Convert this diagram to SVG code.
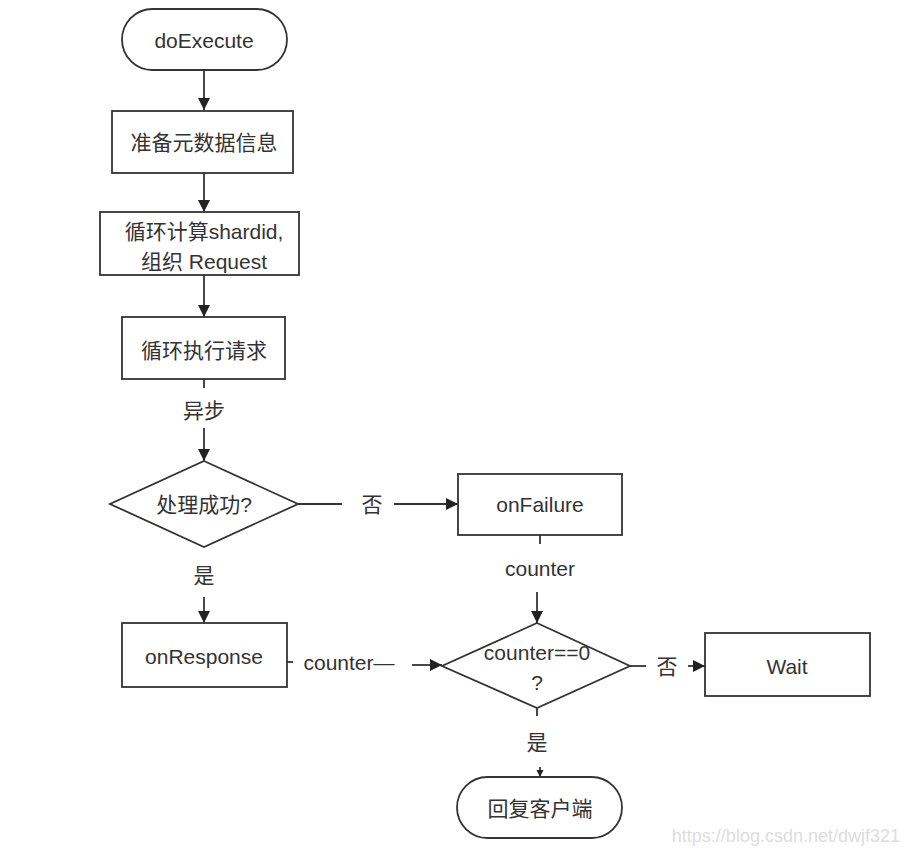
<svg xmlns="http://www.w3.org/2000/svg" width="908" height="855" viewBox="0 0 908 855">
<style>
.s{fill:#fff;stroke:#333;stroke-width:1.8}
.t{font-family:"Liberation Sans","Noto Sans CJK SC",sans-serif;font-size:21px;fill:#333;text-anchor:middle;dominant-baseline:central}
.l{fill:none;stroke:#333;stroke-width:1.8}
.wm{font-family:"Liberation Sans",sans-serif;font-size:18px;fill:#ddd;text-anchor:end}
</style>
<defs>
<marker id="a" viewBox="0 0 10 10" refX="10" refY="5" markerWidth="7" markerHeight="8" markerUnits="userSpaceOnUse" orient="auto">
<path d="M0,0 L10,5 L0,10 Z" fill="#222"/>
</marker>
<marker id="b" viewBox="0 0 10 10" refX="10" refY="5" markerWidth="16" markerHeight="12" markerUnits="userSpaceOnUse" orient="auto">
<path d="M0,0 L10,5 L0,10 Z" fill="#222"/>
</marker>
</defs>
<rect width="908" height="855" fill="#fff"/>
<g id="connectors">
<line class="l" x1="204" y1="70" x2="204" y2="110" marker-end="url(#b)"/>
<line class="l" x1="204" y1="173" x2="204" y2="212" marker-end="url(#b)"/>
<line class="l" x1="204" y1="275" x2="204" y2="317" marker-end="url(#b)"/>
<line class="l" x1="204" y1="379" x2="204" y2="388"/>
<text class="t" x="204" y="410">异步</text>
<line class="l" x1="204" y1="428" x2="204" y2="461" marker-end="url(#b)"/>
<line class="l" x1="298" y1="504" x2="342" y2="504"/>
<text class="t" x="372" y="504">否</text>
<line class="l" x1="394" y1="504" x2="458" y2="504" marker-end="url(#b)"/>
<text class="t" x="204" y="575">是</text>
<line class="l" x1="204" y1="597" x2="204" y2="623" marker-end="url(#b)"/>
<line class="l" x1="540" y1="535" x2="540" y2="544"/>
<text class="t" x="540" y="568">counter</text>
<line class="l" x1="537" y1="592" x2="537" y2="623" marker-end="url(#b)"/>
<line class="l" x1="287" y1="662" x2="293" y2="662"/>
<text class="t" x="349" y="662">counter—</text>
<line class="l" x1="412" y1="665" x2="442" y2="665" marker-end="url(#b)"/>
<line class="l" x1="630" y1="666" x2="646" y2="666"/>
<text class="t" x="667" y="666">否</text>
<line class="l" x1="688" y1="666" x2="705" y2="666" marker-end="url(#b)"/>
<line class="l" x1="537" y1="708" x2="537" y2="716"/>
<text class="t" x="537" y="742">是</text>
<line class="l" x1="540" y1="767" x2="540" y2="777" marker-end="url(#a)"/>
</g>
<g id="n-doExecute">
<rect class="s" x="122" y="9" width="165" height="61" rx="30.5"/>
<text class="t" x="204" y="40">doExecute</text>
</g>
<g id="n-prepare">
<rect class="s" x="112" y="111" width="181" height="62"/>
<text class="t" x="204" y="142">准备元数据信息</text>
</g>
<g id="n-loopcalc">
<rect class="s" x="100" y="212" width="199" height="63"/>
<text class="t" x="204" y="231">循环计算shardid,</text>
<text class="t" x="204" y="261">组织 Request</text>
</g>
<g id="n-loopexec">
<rect class="s" x="122" y="317" width="163" height="62"/>
<text class="t" x="204" y="350">循环执行请求</text>
</g>
<g id="n-success">
<polygon class="s" points="204,461 298,504 204,547 110,504"/>
<text class="t" x="204" y="504">处理成功?</text>
</g>
<g id="n-onFailure">
<rect class="s" x="458" y="474" width="164" height="61"/>
<text class="t" x="540" y="504">onFailure</text>
</g>
<g id="n-onResponse">
<rect class="s" x="122" y="623" width="165" height="64"/>
<text class="t" x="204" y="656">onResponse</text>
</g>
<g id="n-counter0">
<polygon class="s" points="537,623 630,666 537,708 442,666"/>
<text class="t" x="537" y="652">counter==0</text>
<text class="t" x="537" y="682">?</text>
</g>
<g id="n-wait">
<rect class="s" x="705" y="633" width="165" height="63"/>
<text class="t" x="787" y="666">Wait</text>
</g>
<g id="n-reply">
<rect class="s" x="457" y="777" width="165" height="61" rx="30.5"/>
<text class="t" x="540" y="808">回复客户端</text>
</g>
<text class="wm" x="900" y="842">https://blog.csdn.net/dwjf321</text>
</svg>
